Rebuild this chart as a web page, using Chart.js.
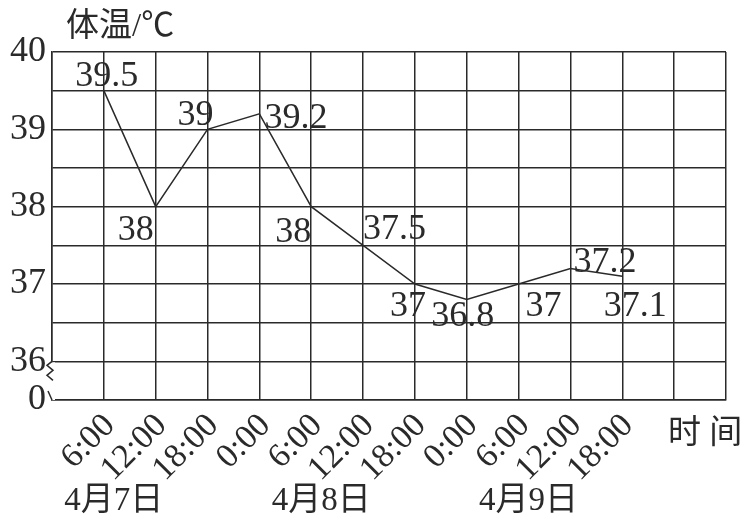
<!DOCTYPE html>
<html>
<head>
<meta charset="utf-8">
<script src="https://cdn.jsdelivr.net/npm/chart.js@4/dist/chart.umd.min.js"></script>
<style>
body { margin: 0; background: #fff; }
#wrap { width: 750px; height: 522px; }
</style>
</head>
<body>
<div id="wrap"><canvas id="tempChart"></canvas></div>
<script>
var timeLabels = ['6:00', '12:00', '18:00', '0:00', '6:00', '12:00', '18:00', '0:00', '6:00', '12:00', '18:00'];
var temps = [39.5, 38, 39, 39.2, 38, 37.5, 37, 36.8, 37, 37.2, 37.1];
var dayLabels = ['4月7日', '4月8日', '4月9日'];
var dayAt = [1, 5, 9];

// where each value label sits relative to its point: dx, dy, align
var labelPlace = [
    [3, -5, 'center'], [-2, 33, 'right'], [6, -4, 'right'], [5, 14, 'left'],
    [0, 35, 'right'], [0, -6, 'left'], [11, 32, 'right'], [-4, 27, 'center'],
    [7, 32, 'left'], [3, 3, 'left'], [13, 40, 'center']
];

var serif = '"Liberation Serif", "Times New Roman", serif';
var mixed = '"Liberation Serif", "Noto Sans CJK SC", serif';
var ink = '#2a2a2a';

var points = temps.map(function (t, i) { return { x: i + 1, y: t }; });

const extras = {
    id: 'extras',
    afterDatasetsDraw: function (chart) {
        const ctx = chart.ctx;
        const xs = chart.scales.x, ys = chart.scales.y;
        const area = chart.chartArea;
        ctx.save();
        // value labels
        ctx.fillStyle = ink;
        ctx.font = '36px ' + serif;
        ctx.textBaseline = 'alphabetic';
        temps.forEach(function (t, i) {
            const p = labelPlace[i];
            ctx.textAlign = p[2];
            ctx.fillText(String(t), xs.getPixelForValue(i + 1) + p[0], ys.getPixelForValue(t) + p[1]);
        });
        // axis break on the left edge
        const x0 = area.left, yTop = ys.getPixelForValue(36), yBot = area.bottom;
        ctx.fillStyle = '#fff';
        ctx.fillRect(x0 - 3, yTop + 1, 6, yBot - yTop - 1);
        ctx.strokeStyle = ink;
        ctx.lineWidth = 1.5;
        ctx.beginPath();
        ctx.moveTo(x0, yTop);
        ctx.lineTo(x0 - 5, yTop + 4);
        ctx.lineTo(x0 + 1, yTop + 9);
        ctx.lineTo(x0 - 5, yTop + 14);
        ctx.lineTo(x0 + 1, yTop + 19);
        ctx.stroke();
        ctx.beginPath();
        ctx.moveTo(x0 - 4, yBot - 9);
        ctx.lineTo(x0, yBot);
        ctx.stroke();
        // titles and dates
        ctx.fillStyle = ink;
        ctx.font = '33px ' + mixed;
        ctx.textAlign = 'left';
        ctx.textBaseline = 'middle';
        ctx.fillText('体温/℃', 66, 27);
        ctx.fillText('时 间', 668, 434);
        ctx.textAlign = 'center';
        dayLabels.forEach(function (d, i) {
            ctx.fillText(d, xs.getPixelForValue(dayAt[i]) + 10, 501);
        });
        ctx.restore();
    }
};

new Chart(document.getElementById('tempChart'), {
    type: 'line',
    data: {
        datasets: [{
            data: points,
            borderColor: ink,
            borderWidth: 1.5,
            pointRadius: 0,
            tension: 0,
            fill: false
        }]
    },
    options: {
        responsive: true,
        maintainAspectRatio: false,
        animation: false,
        layout: { padding: { top: 52, right: 24, left: 0, bottom: 0 } },
        plugins: { legend: { display: false }, tooltip: { enabled: false } },
        scales: {
            x: {
                type: 'linear',
                min: 0,
                max: 13,
                afterFit: function (s) { s.height = 122; s.paddingLeft = 0; s.paddingRight = 0; },
                grid: { color: ink, lineWidth: 1.5, drawTicks: false },
                border: { color: ink, width: 1.5 },
                ticks: {
                    stepSize: 1,
                    autoSkip: false,
                    minRotation: 45,
                    maxRotation: 45,
                    padding: 6,
                    labelOffset: 6,
                    color: ink,
                    font: { family: serif, size: 34 },
                    callback: function (v) { return timeLabels[v - 1] || ''; }
                }
            },
            y: {
                min: 35.5,
                max: 40,
                afterFit: function (s) { s.width = 52; s.paddingTop = 0; s.paddingBottom = 0; },
                grid: { color: ink, lineWidth: 1.5, drawTicks: false },
                border: { color: ink, width: 1.5 },
                ticks: {
                    stepSize: 0.5,
                    autoSkip: false,
                    padding: 6,
                    color: ink,
                    font: { family: serif, size: 36 },
                    callback: function (v) {
                        if (v === 35.5) return '0';
                        return Number.isInteger(v) ? String(v) : '';
                    }
                }
            }
        }
    },
    plugins: [extras]
});
</script>
</body>
</html>
